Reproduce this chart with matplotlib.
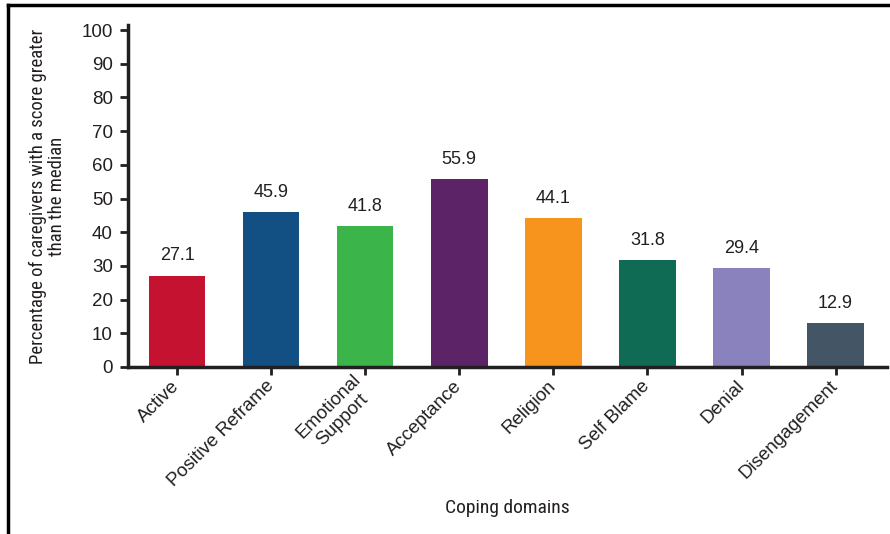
import matplotlib.pyplot as plt
from matplotlib import font_manager
from matplotlib.lines import Line2D

# coping domains and % of caregivers above median
domains = ["Active", "Positive Reframe", "Emotional\nSupport", "Acceptance",
           "Religion", "Self Blame", "Denial", "Disengagement"]
values = [27.1, 45.9, 41.8, 55.9, 44.1, 31.8, 29.4, 12.9]
colors = ["#c41230", "#124f82", "#3bb44a", "#5c2366",
          "#f7941d", "#0f6b54", "#8982bd", "#445566"]

names = {f.name for f in font_manager.fontManager.ttflist}


def pick(options, default):
    for o in options:
        if o in names:
            return o
    return default


narrow = pick(["Nimbus Sans Narrow", "Liberation Sans Narrow", "Roboto Condensed",
               "Archivo Narrow", "Asap Condensed", "Barlow Semi Condensed"], "DejaVu Sans")
main = pick(["Nimbus Sans", "Arimo", "Liberation Sans"], "DejaVu Sans")
plt.rcParams["font.family"] = [main, "DejaVu Sans"]

ink = "#231f20"
fig = plt.figure(figsize=(8.9, 5.34), dpi=100)
ax = fig.add_axes([0.144, 0.313, 0.853, 0.64])

x = list(range(len(values)))
ax.bar(x, values, width=0.6, color=colors)
for xi, v in zip(x, values):
    ax.text(xi, v + 3.3, f"{v}", ha="center", va="bottom", fontsize=13, color=ink)

ax.set_ylim(0, 101.5)
ax.set_xlim(-0.52, 7.55)
ax.set_yticks(range(0, 101, 10))
ax.set_xticks(x)
ax.set_xticklabels(domains, rotation=45, ha="right", va="center",
                   rotation_mode="anchor", fontsize=13.5, color=ink,
                   multialignment="center", linespacing=1.15)
ax.tick_params(axis="y", labelsize=13.5, colors=ink, length=6, width=2, pad=5)
ax.tick_params(axis="x", colors=ink, length=6, width=2, pad=6)

for s in ["top", "right"]:
    ax.spines[s].set_visible(False)
for s in ["left", "bottom"]:
    ax.spines[s].set_linewidth(2.5)
    ax.spines[s].set_color(ink)

ax.set_ylabel("Percentage of caregivers with a score greater\nthan the median",
              family=narrow, fontsize=13.5, color=ink, labelpad=11, linespacing=1.1)
ax.set_xlabel("Coping domains", family=narrow, fontsize=14, color=ink, labelpad=6)

# frame lines on left and top of the figure
fig.add_artist(Line2D([0.009, 0.009], [0.0, 0.991], color="black", lw=2.5,
                      transform=fig.transFigure))
fig.add_artist(Line2D([0.009, 1.0], [0.991, 0.991], color="black", lw=2.5,
                      transform=fig.transFigure))

fig.savefig("out.png", dpi=100)
